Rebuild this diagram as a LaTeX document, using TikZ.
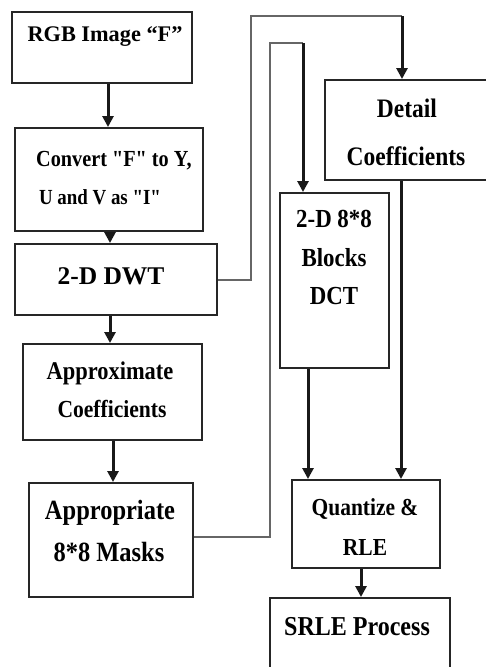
\documentclass[tikz,border=0pt]{standalone}
\usepackage{fontspec}
\setmainfont{Liberation Serif}
\newfontfamily\nf{Liberation Serif}[FakeStretch=0.88]
\usetikzlibrary{arrows.meta}
\tikzset{
  boxst/.style={draw=black!85, line width=2pt, fill=white, inner sep=0pt},
  txt/.style={inner sep=0pt, align=center, text=black},
  flow/.style={draw=black!90, line width=3pt, -{Triangle[width=11pt,length=11pt]}},
  wire/.style={draw=black!60, line width=2.4pt},
  wirein/.style={draw=black!90, line width=3pt, -{Triangle[width=11pt,length=11pt]}}
}
\newcommand{\fs}[1]{\fontsize{#1}{#1}\selectfont}
\newcommand{\sq}{\symbol{34}}
\begin{document}
\begin{tikzpicture}[x=1pt,y=-1pt]
\useasboundingbox (0,0) rectangle (486,667);
\clip (0,0) rectangle (486,667);
\fill[white] (0,0) rectangle (486,667);
% boxes
\node[boxst, minimum width=180pt, minimum height=71pt] (rgb) at (102,47.5) {};
\node[boxst, minimum width=188pt, minimum height=103pt] (conv) at (109,179.5) {};
\node[boxst, minimum width=202pt, minimum height=71pt] (dwt) at (116,279.5) {};
\node[boxst, minimum width=179pt, minimum height=96pt] (appr) at (112.5,392) {};
\node[boxst, minimum width=164pt, minimum height=114pt] (mask) at (111,540) {};
\node[boxst, minimum width=170pt, minimum height=100pt] (det) at (410,130) {};
\node[boxst, minimum width=109pt, minimum height=175pt] (dct) at (334.5,280.5) {};
\node[boxst, minimum width=148pt, minimum height=88pt] (quan) at (366,524) {};
\node[boxst, minimum width=180pt, minimum height=100pt] (srle) at (360,648) {};
% texts
\node[txt, font=\bfseries\fs{22.3}] (trgb) at (105,37) {RGB Image “F”};
\node[txt, font=\nf\bfseries\fs{23}] (tconv1) at (114,161) {Convert \sq F\sq\ to Y,};
\node[txt, font=\nf\bfseries\fs{21.5}] (tconv2) at (100,197) {U and V as \sq I\sq};
\node[txt, font=\bfseries\fs{25.5}] (tdwt) at (111,276) {2-D DWT};
\node[txt, font=\nf\bfseries\fs{25.5}] (tappr1) at (110,373) {Approximate};
\node[txt, font=\nf\bfseries\fs{24.5}] (tappr2) at (112,409) {Coefficients};
\node[txt, font=\nf\bfseries\fs{27.8}] (tmask1) at (110,513) {Appropriate};
\node[txt, font=\nf\bfseries\fs{27.8}] (tmask2) at (109,552) {8*8 Masks};
\node[txt, font=\nf\bfseries\fs{26.7}] (tdet1) at (407,108) {Detail};
\node[txt, font=\nf\bfseries\fs{26.7}] (tdet2) at (406,156) {Coefficients};
\node[txt, font=\nf\bfseries\fs{26}] (tdct1) at (334,219) {2-D 8*8};
\node[txt, font=\nf\bfseries\fs{26}] (tdct2) at (334,258) {Blocks};
\node[txt, font=\nf\bfseries\fs{26}] (tdct3) at (334,296) {DCT};
\node[txt, font=\nf\bfseries\fs{24.4}] (tquan1) at (365,509) {Quantize \&};
\node[txt, font=\nf\bfseries\fs{24.4}] (tquan2) at (365,548) {RLE};
\node[txt, font=\nf\bfseries\fs{27.3}] (tsrle) at (357,627) {SRLE Process};
% coordinates for routed wires
\coordinate (d1) at (251,280);
\coordinate (d2) at (251,16);
\coordinate (d3) at (402,16);
\coordinate (m1) at (270,537);
\coordinate (m2) at (270,43);
\coordinate (m3) at (303,43);
% vertical flow arrows
\draw[flow] (rgb.south -| 108,0) -- (conv.north -| 108,0);
\draw[flow] (conv.south -| 110,0) -- (dwt.north -| 110,0);
\draw[flow] (dwt.south -| 110,0) -- (appr.north -| 110,0);
\draw[flow] (appr.south -| 113,0) -- (mask.north -| 113,0);
\draw[flow] (dct.south -| 308,0) -- (quan.north -| 308,0);
\draw[flow] (det.south -| 401,0) -- (quan.north -| 401,0);
\draw[flow] (quan.south -| 361,0) -- (srle.north -| 361,0);
% routed connectors
\draw[wire] (dwt.east |- d1) -- (d1) -- (d2) -- (d3);
\draw[wirein] (d3) -- (det.north -| d3);
\draw[wire] (mask.east |- m1) -- (m1) -- (m2) -- (m3);
\draw[wirein] (m3) -- (dct.north -| m3);
\end{tikzpicture}
\end{document}
